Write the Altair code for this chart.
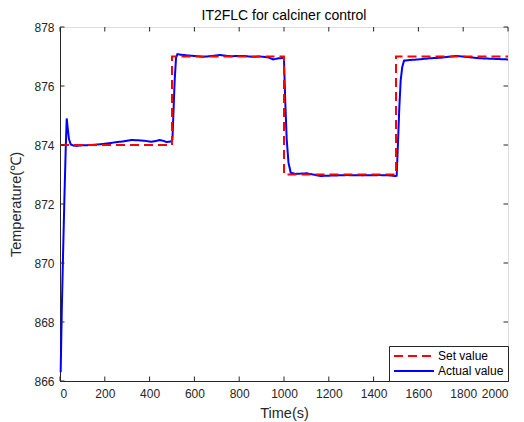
import altair as alt
import pandas as pd

# Set value (step reference)
set_t = [0, 500, 500, 1000, 1000, 1500, 1500, 2000]
set_v = [874, 874, 877, 877, 873, 873, 877, 877]

# Actual value
act_t = [3, 8, 14, 20, 26, 30, 34, 40, 48, 60, 75, 100, 140, 186, 220, 245, 280, 320, 350,
         380, 409, 430, 446, 462, 476, 488, 496, 502, 506, 512, 518, 524, 540, 580, 640, 680,
         714, 760, 818, 860, 893, 930, 952, 975, 996, 1000, 1005, 1012, 1020, 1030, 1050,
         1101, 1130, 1161, 1200, 1280, 1350, 1429, 1470, 1496, 1503, 1510, 1515, 1521, 1528,
         1536, 1560, 1600, 1652, 1700, 1771, 1820, 1875, 1940, 2000]
act_v = [866.3, 868.4, 870.4, 872.3, 874.0, 874.9, 874.6, 874.2, 874.02, 873.98, 873.97,
         873.99, 874.0, 874.03, 874.06, 874.09, 874.12, 874.17, 874.16, 874.14, 874.11,
         874.14, 874.17, 874.14, 874.1, 874.11, 874.12, 874.2, 875.0, 876.2, 876.95, 877.08,
         877.06, 877.03, 876.99, 877.02, 877.05, 877.01, 877.02, 876.99, 877.0, 876.97,
         876.9, 876.94, 876.95, 876.9, 875.6, 874.2, 873.4, 873.06, 873.02, 873.04, 873.0,
         872.95, 872.96, 872.98, 872.97, 872.98, 872.97, 872.95, 872.96, 874.3, 875.3, 876.2,
         876.65, 876.86, 876.88, 876.9, 876.94, 876.96, 877.02, 876.98, 876.94, 876.92, 876.9]

x_ticks = [0, 200, 400, 600, 800, 1000, 1200, 1400, 1600, 1800, 2000]
y_ticks = [866, 868, 870, 872, 874, 876, 878]

series_names = ["Set value", "Actual value"]

W, H = 448, 354
TL = 4.5
FONT = "Liberation Sans"
AX = "#262626"

df_set = pd.DataFrame({"t": set_t, "v": set_v, "series": "Set value", "i": range(len(set_t))})
df_act = pd.DataFrame({"t": act_t, "v": act_v, "series": "Actual value", "i": range(len(act_t))})
df_xt = pd.DataFrame({"xt": x_ticks})
df_yt = pd.DataFrame({"yt": y_ticks})

xscale = alt.Scale(domain=[0, 2000], nice=False, zero=False)
yscale = alt.Scale(domain=[866, 878], nice=False, zero=False)

color_enc = alt.Color("series:N", scale=alt.Scale(domain=series_names, range=["#FF0000", "#0000FF"]),
                      title=None,
                      legend=alt.Legend(orient="bottom-right", offset=0, symbolType="M-1,0L7,0",
                                        symbolSize=100, symbolStrokeWidth=2,
                                        labelFontSize=12, labelFont=FONT, labelColor="#000000",
                                        strokeColor=AX, fillColor="#FFFFFF",
                                        padding=4, rowPadding=3, labelOffset=33))
dash_enc = alt.StrokeDash("series:N", scale=alt.Scale(domain=series_names, range=[[9, 5], [1, 0]]),
                          title=None, legend=None)

axis_common = dict(ticks=False, grid=False, domainColor=AX, domainWidth=1,
                   labelFont=FONT, labelFontSize=12, labelColor=AX,
                   titleFont=FONT, titleFontSize=14.5, titleFontWeight="normal", titleColor=AX)

x_axis = alt.Axis(values=x_ticks, title="Time(s)", format="d", labelPadding=7, titlePadding=7,
                  **axis_common)
y_axis = alt.Axis(values=y_ticks, title="Temperature(℃)", format="d", labelPadding=6,
                  titlePadding=10, **axis_common)

x_enc = alt.X("t:Q", scale=xscale, axis=x_axis)
y_enc = alt.Y("v:Q", scale=yscale, axis=y_axis)

act_line = alt.Chart(df_act).mark_line(strokeWidth=2).encode(
    x=x_enc, y=y_enc, color=color_enc, strokeDash=dash_enc, order="i:Q")
set_line = alt.Chart(df_set).mark_line(strokeWidth=2).encode(
    x=x_enc, y=y_enc, color=color_enc, strokeDash=dash_enc, order="i:Q")

tick_style = dict(color=AX, strokeWidth=1)
bx = alt.Chart(df_xt).mark_rule(**tick_style).encode(
    x=alt.X("xt:Q", scale=xscale, axis=x_axis), y=alt.value(H), y2=alt.value(H - TL))
tx = alt.Chart(df_xt).mark_rule(**tick_style).encode(
    x=alt.X("xt:Q", scale=xscale, axis=x_axis), y=alt.value(0), y2=alt.value(TL))
ly = alt.Chart(df_yt).mark_rule(**tick_style).encode(
    y=alt.Y("yt:Q", scale=yscale, axis=y_axis), x=alt.value(0), x2=alt.value(TL))
ry = alt.Chart(df_yt).mark_rule(**tick_style).encode(
    y=alt.Y("yt:Q", scale=yscale, axis=y_axis), x=alt.value(W), x2=alt.value(W - TL))

chart = alt.layer(act_line, set_line, bx, tx, ly, ry).properties(
    width=W, height=H,
    title=alt.TitleParams("IT2FLC for calciner control", fontSize=14, font=FONT,
                          fontWeight="normal", color="#000000", offset=0, dy=2),
    autosize=alt.AutoSizeParams(type="none"),
    padding={"left": 60, "top": 27, "right": 16, "bottom": 41},
).configure_view(stroke=AX, strokeWidth=1).configure(background="white")

chart.save("out.html", embed_options={"renderer": "svg", "actions": False})
